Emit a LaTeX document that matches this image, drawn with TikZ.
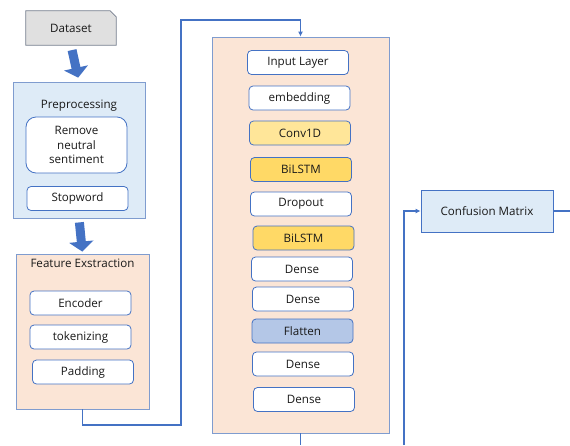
\documentclass[tikz,border=0pt]{standalone}
\usepackage{fontspec}
\setmainfont{Open Sans}
\usetikzlibrary{arrows.meta}

\definecolor{lineblue}{HTML}{4472C4}
\definecolor{edgeblue}{HTML}{7F9CCF}
\definecolor{boxblue}{HTML}{DEEBF7}
\definecolor{boxpeach}{HTML}{FBE5D6}
\definecolor{datagray}{HTML}{E0E0E0}
\definecolor{convfill}{HTML}{FFE699}
\definecolor{lstmfill}{HTML}{FFD966}
\definecolor{flatfill}{HTML}{B4C7E7}

\begin{document}
\begin{tikzpicture}[x=1pt,y=-1pt,
  font=\fontsize{11.6}{14.5}\selectfont, text=black!90,
  layer/.style={draw=lineblue, line width=0.8pt, rounded corners=4pt, fill=white,
    minimum width=101pt, minimum height=24pt, inner sep=0pt},
  panel/.style={draw=edgeblue, line width=0.8pt, inner sep=0pt},
  link/.style={draw=lineblue, line width=1.4pt},
  bigarrow/.style={draw=lineblue, line width=9pt, -{Triangle[width=24pt,length=10pt]}}]

\useasboundingbox (0,0) rectangle (570,445);

% left column
\node (data) [minimum width=90pt, minimum height=34pt] at (71,28) {};
\filldraw [fill=datagray, draw=gray!80!lineblue, line width=0.8pt]
  (data.north west) -- ([xshift=-6pt]data.north east) -- ([yshift=-6pt]data.north east)
  -- (data.south east) -- (data.south west) -- cycle;
\node at (data) {Dataset};

\node (pre) [panel, fill=boxblue, minimum width=132pt, minimum height=136pt] at (79,150) {};
\node (pretitle) at (79,106) {Preprocessing};
\node (neutral) [layer, rounded corners=10pt, minimum height=56pt, align=center] at (76.5,145) {Remove\\neutral\\sentiment};
\node (stop) [layer] at (77.5,198.5) {Stopword};

\node (fe) [panel, fill=boxpeach, minimum width=133pt, minimum height=155pt] at (82.5,331.5) {};
\node (fetitle) at (82.5,263) {Feature Exstraction};
\node (enc) [layer] at (80.5,303) {Encoder};
\node (tok) [layer] at (80.5,337) {tokenizing};
\node (pad) [layer] at (83,372) {Padding};

\draw [bigarrow, shorten <=5pt, shorten >=4pt] (data.south) -- (pre.north);
\draw [bigarrow, shorten <=4pt, shorten >=2pt] (pre.south) -- (fe.north);

% model
\node (model) [panel, fill=boxpeach, minimum width=177pt, minimum height=396pt] at (300.5,235) {};
\node (input) [layer] at (298,62.5) {Input Layer};
\node (emb) [layer] at (299.5,98) {embedding};
\node (conv) [layer, fill=convfill] at (300,133) {Conv1D};
\node (lstma) [layer, fill=lstmfill] at (301,169.5) {BiLSTM};
\node (drop) [layer] at (301,204) {Dropout};
\node (lstmb) [layer, fill=lstmfill] at (303.5,238) {BiLSTM};
\node (densea) [layer] at (302,269) {Dense};
\node (denseb) [layer] at (303,299) {Dense};
\node (flat) [layer, fill=flatfill] at (302.5,331) {Flatten};
\node (densec) [layer] at (303,364) {Dense};
\node (densed) [layer] at (304,399.5) {Dense};

% right
\node (cm) [draw=lineblue, line width=0.8pt, fill=boxblue, minimum width=132pt, minimum height=42pt] at (487,211) {Confusion Matrix};

\coordinate (low) at (181,425);
\coordinate (high) at (181,20);
\coordinate (mout) at (300.5,445);
\coordinate (cin) at (404,445);
\coordinate (cout) at (570,211);

\draw [link, -{Latex[length=5pt,width=5pt]}] (fe.south) |- (low) -- (high) -| (model.north);
\draw [link] (model.south) -- (mout);
\draw [link, -{Latex[length=5pt,width=5pt]}] (cin) |- (cm.west);
\draw [link] (cm.east) -- (cout);

\end{tikzpicture}
\end{document}
